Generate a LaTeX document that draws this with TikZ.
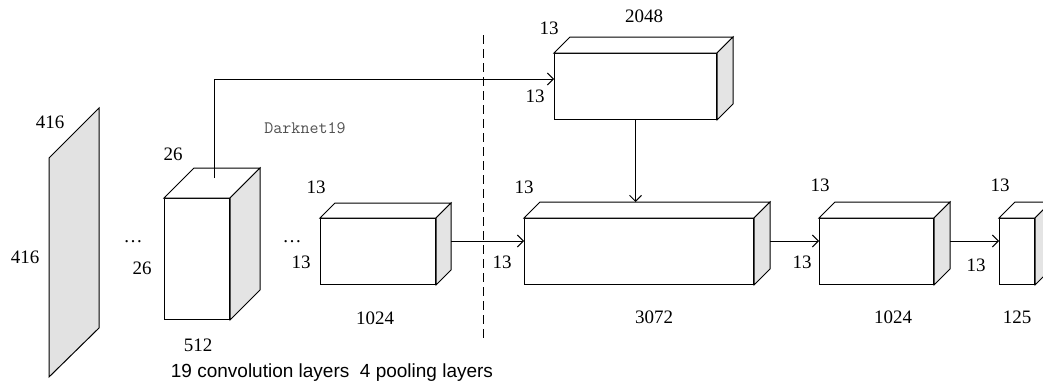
\documentclass[tikz,border=0pt]{standalone}
\usepackage{fontspec}
\setmainfont{Liberation Serif}
\newfontfamily\notefont{Liberation Sans}
\usetikzlibrary{arrows.meta}
\definecolor{sidegray}{HTML}{E4E4E4}
\definecolor{slabgray}{HTML}{E2E2E2}
\definecolor{netgray}{HTML}{505050}

% top and side faces of a layer block
\newcommand{\depthfaces}[2]{%
	\filldraw[fill=white] (#1.north west) -- ++(#2,-#2) -- ([shift={(#2,-#2)}]#1.north east) -- (#1.north east) -- cycle;
	\filldraw[fill=sidegray] (#1.north east) -- ++(#2,-#2) -- ([shift={(#2,-#2)}]#1.south east) -- (#1.south east) -- cycle;
}

\begin{document}
\begin{tikzpicture}[x=1pt, y=-1pt, line width=1pt, line join=miter,
	cube/.style={draw, fill=white, inner sep=0pt, anchor=north west},
	dim/.style={font=\fontsize{19}{22}\selectfont, inner sep=0pt},
	arr/.style={-{Straight Barb[length=6pt,width=12pt]}}]
	\useasboundingbox (0,0) rectangle (1043,381);

	% input image
	\filldraw[fill=slabgray] (49,158) -- (99,108) -- (99,328) -- (49,377) -- cycle;
	\node[dim](in_w) at (50,122) {416};
	\node[dim](in_h) at (25,257) {416};

	% layer blocks
	\node[cube, minimum width=65, minimum height=121](c26) at (164,198) {};
	\depthfaces{c26}{30}
	\node[cube, minimum width=115, minimum height=66](c1024a) at (320,218) {};
	\depthfaces{c1024a}{15}
	\node[cube, minimum width=162, minimum height=66](c2048) at (554,53) {};
	\depthfaces{c2048}{16}
	\node[cube, minimum width=229, minimum height=66](c3072) at (524,218) {};
	\depthfaces{c3072}{16}
	\node[cube, minimum width=114, minimum height=66](c1024b) at (819,218) {};
	\depthfaces{c1024b}{16}
	\node[cube, minimum width=35, minimum height=66](c125) at (999,218) {};
	\depthfaces{c125}{16}

	% dimension labels
	\node[dim](dots_a) at (133,242) {\ldots};
	\node[dim](dots_b) at (292,242) {\ldots};
	\node[dim](c26_t) at (173,154) {26};
	\node[dim](c26_l) at (142,268) {26};
	\node[dim](c26_b) at (198,345) {512};
	\node[dim](c1024a_t) at (316,187) {13};
	\node[dim](c1024a_l) at (301,262) {13};
	\node[dim](c1024a_b) at (375,318) {1024};
	\node[dim](c2048_t) at (549,28) {13};
	\node[dim](c2048_l) at (535,96) {13};
	\node[dim](c2048_b) at (644,16) {2048};
	\node[dim](c3072_t) at (524,187) {13};
	\node[dim](c3072_l) at (502,262) {13};
	\node[dim](c3072_b) at (654,317) {3072};
	\node[dim](c1024b_t) at (820,185) {13};
	\node[dim](c1024b_l) at (802,262) {13};
	\node[dim](c1024b_b) at (893,317) {1024};
	\node[dim](c125_t) at (1000,185) {13};
	\node[dim](c125_l) at (976,265) {13};
	\node[dim](c125_b) at (1017,317) {125};

	\node[font=\ttfamily\fontsize{17.5}{20}\selectfont, text=netgray, inner sep=0pt](net) at (305,128) {Darknet19};
	\node[font=\notefont\fontsize{19}{22}\selectfont, inner sep=0pt, anchor=base](note) at (332,377) {19 convolution layers\ \ 4 pooling layers};

	% split line
	\coordinate (cut_t) at (483,35);
	\coordinate (cut_b) at (483,340);
	\draw[dash pattern=on 9pt off 5pt] (cut_t) -- (cut_b);

	% connections
	\coordinate (lvl) at (0,241);
	\coordinate (tap) at ([shift={(17,-20)}]c26.north);
	\coordinate (feed) at (0,79);
	\coordinate (top3072) at ([shift={(16,-16)}]c3072.north west);
	\draw[arr] (tap) |- (c2048.west |- feed);
	\draw[arr] (c2048.south) -- (c2048.south |- top3072);
	\draw[arr] ([xshift=15pt]c1024a.east |- lvl) -- (c3072.west |- lvl);
	\draw[arr] ([xshift=16pt]c3072.east |- lvl) -- (c1024b.west |- lvl);
	\draw[arr] ([xshift=16pt]c1024b.east |- lvl) -- (c125.west |- lvl);
\end{tikzpicture}
\end{document}
